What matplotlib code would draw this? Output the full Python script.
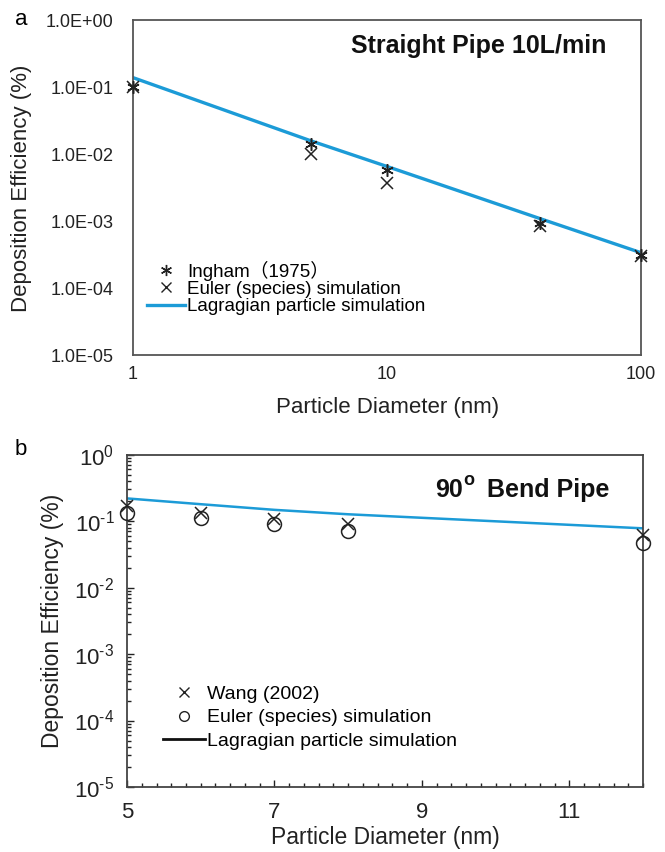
import matplotlib
matplotlib.use('Agg')
import matplotlib.pyplot as plt
from matplotlib.lines import Line2D
from matplotlib.ticker import FixedLocator, MultipleLocator, LogLocator, NullFormatter
import numpy as np

plt.rcParams['font.family'] = ['Liberation Sans', 'Noto Sans CJK SC', 'DejaVu Sans']
plt.rcParams['mathtext.fontset'] = 'custom'
plt.rcParams['mathtext.rm'] = 'Liberation Sans'
plt.rcParams['mathtext.default'] = 'regular'

# panel a - straight pipe
a_diam = [1, 5, 10, 40, 100]
a_ingham = [0.10, 0.0145, 0.0058, 0.00093, 0.00031]
a_euler = [0.10, 0.0103, 0.0037, 0.00085, 0.00030]
a_lagr_x = [1, 5, 10, 40, 100]
a_lagr = [0.14, 0.0160, 0.0066, 0.00110, 0.00034]

# panel b - 90 degree bend
b_diam = [5, 6, 7, 8, 12]
b_wang = [0.17, 0.135, 0.108, 0.092, 0.062]
b_euler = [0.135, 0.112, 0.090, 0.070, 0.047]
b_lagr = [0.22, 0.18, 0.148, 0.127, 0.078]

blue = '#1c9bd7'

fig = plt.figure(figsize=(6.65, 8.52), dpi=100)

# ---------- panel a ----------
ax = fig.add_axes([0.200, 0.583, 0.764, 0.393])
ax.plot(a_lagr_x, a_lagr, color=blue, lw=2.4, zorder=2)
ax.plot(a_diam, a_ingham, ls='none', marker=(6, 2, 0), ms=9, mec='#222222', mew=1.1, zorder=3, clip_on=False)
ax.plot(a_diam, a_euler, ls='none', marker='x', ms=8, mec='#222222', mew=1.1, zorder=3, clip_on=False)
ax.set_xscale('log')
ax.set_yscale('log')
ax.set_xlim(1, 100)
ax.set_ylim(1e-5, 1)
ax.xaxis.set_major_locator(FixedLocator([1, 10, 100]))
ax.xaxis.set_minor_locator(FixedLocator([]))
ax.set_xticklabels(['1', '10', '100'])
yt = [1e-5, 1e-4, 1e-3, 1e-2, 1e-1, 1]
ax.yaxis.set_major_locator(FixedLocator(yt))
ax.yaxis.set_minor_locator(FixedLocator([]))
ax.set_yticklabels(['1.0E-05', '1.0E-04', '1.0E-03', '1.0E-02', '1.0E-01', '1.0E+00'])
ax.tick_params(axis='y', length=0, pad=14, labelsize=13, colors='#222222')
ax.tick_params(axis='x', length=0, pad=8, labelsize=13, colors='#222222')
for s in ax.spines.values():
    s.set_color('#555555')
    s.set_linewidth(1.3)
ax.set_xlabel('Particle Diameter (nm)', fontsize=16, color='#222222')
ax.xaxis.set_label_coords(0.502, -0.125)
ax.set_ylabel('Deposition Efficiency (%)', fontsize=16, color='#222222')
ax.yaxis.set_label_coords(-0.199, 0.5)
ax.text(0.68, 0.925, 'Straight Pipe 10L/min', transform=ax.transAxes, fontsize=18,
        fontweight='bold', ha='center', va='center', color='#111111')
hs = [Line2D([], [], ls='none', marker=(6, 2, 0), ms=8, mec='#222222', mew=1.0),
      Line2D([], [], ls='none', marker='x', ms=7, mec='#222222', mew=1.0),
      Line2D([], [], color=blue, lw=2.4)]
ax.legend(hs, ['Ingham\uff081975\uff09', 'Euler (species) simulation', 'Lagragian particle simulation'],
          loc='upper left', bbox_to_anchor=(0.01, 0.31), frameon=False, fontsize=13.5,
          handlelength=2.0, handletextpad=0.1, labelspacing=0.0, borderpad=0)
fig.text(0.022, 0.977, 'a', fontsize=16, va='center', ha='left')

# ---------- panel b ----------
bx = fig.add_axes([0.191, 0.0763, 0.776, 0.390])
bx.plot(b_diam, b_lagr, color=blue, lw=1.8, zorder=2)
bx.plot(b_diam, b_wang, ls='none', marker='x', ms=9, mec='#222222', mew=1.1, zorder=3, clip_on=False)
bx.plot(b_diam, b_euler, ls='none', marker='o', ms=10, mfc='none', mec='#222222', mew=1.1, zorder=3, clip_on=False)
bx.set_yscale('log')
bx.set_xlim(5, 12)
bx.set_ylim(1e-5, 1)
bx.xaxis.set_major_locator(FixedLocator([5, 7, 9, 11]))
bx.xaxis.set_minor_locator(MultipleLocator(0.2))
bx.yaxis.set_minor_locator(LogLocator(base=10, subs=np.arange(2, 10), numticks=10))
bx.yaxis.set_minor_formatter(NullFormatter())
bx.set_yticks(yt)
bx.set_yticklabels([r'10$^{\text{-}5}$', r'10$^{\text{-}4}$', r'10$^{\text{-}3}$',
                    r'10$^{\text{-}2}$', r'10$^{\text{-}1}$', r'10$^{0}$'])
bx.tick_params(axis='both', which='major', direction='in', length=5, width=1.0,
               labelsize=16, colors='#222222')
bx.tick_params(axis='both', which='minor', direction='in', length=3, width=1.0, colors='#222222')
bx.tick_params(axis='y', which='major', pad=9)
bx.tick_params(axis='x', which='major', pad=11)
for s in bx.spines.values():
    s.set_color('#444444')
    s.set_linewidth(1.3)
bx.set_xlabel('Particle Diameter (nm)', fontsize=16.5, color='#222222')
bx.xaxis.set_label_coords(0.5, -0.117)
bx.set_ylabel('Deposition Efficiency (%)', fontsize=16.5, color='#222222')
bx.yaxis.set_label_coords(-0.122, 0.5)
bx.text(0.651, 0.894, '90', transform=bx.transAxes, fontsize=18,
        fontweight='bold', ha='right', va='center', color='#111111')
bx.text(0.652, 0.922, 'o', transform=bx.transAxes, fontsize=13,
        fontweight='bold', ha='left', va='center', color='#111111')
bx.text(0.698, 0.894, 'Bend Pipe', transform=bx.transAxes, fontsize=18,
        fontweight='bold', ha='left', va='center', color='#111111')
hb = [Line2D([], [], ls='none', marker='x', ms=7, mec='#222222', mew=1.0),
      Line2D([], [], ls='none', marker='o', ms=7, mfc='none', mec='#222222', mew=1.0),
      Line2D([], [], color='#111111', lw=2.0)]
bx.legend(hb, ['Wang (2002)', 'Euler (species) simulation', 'Lagragian particle simulation'],
          loc='upper left', bbox_to_anchor=(0.05, 0.335), frameon=False, fontsize=14,
          handlelength=2.2, handletextpad=0.1, labelspacing=0.3, borderpad=0)
fig.text(0.022, 0.472, 'b', fontsize=16, va='center', ha='left')

fig.savefig('out.png', dpi=100)
